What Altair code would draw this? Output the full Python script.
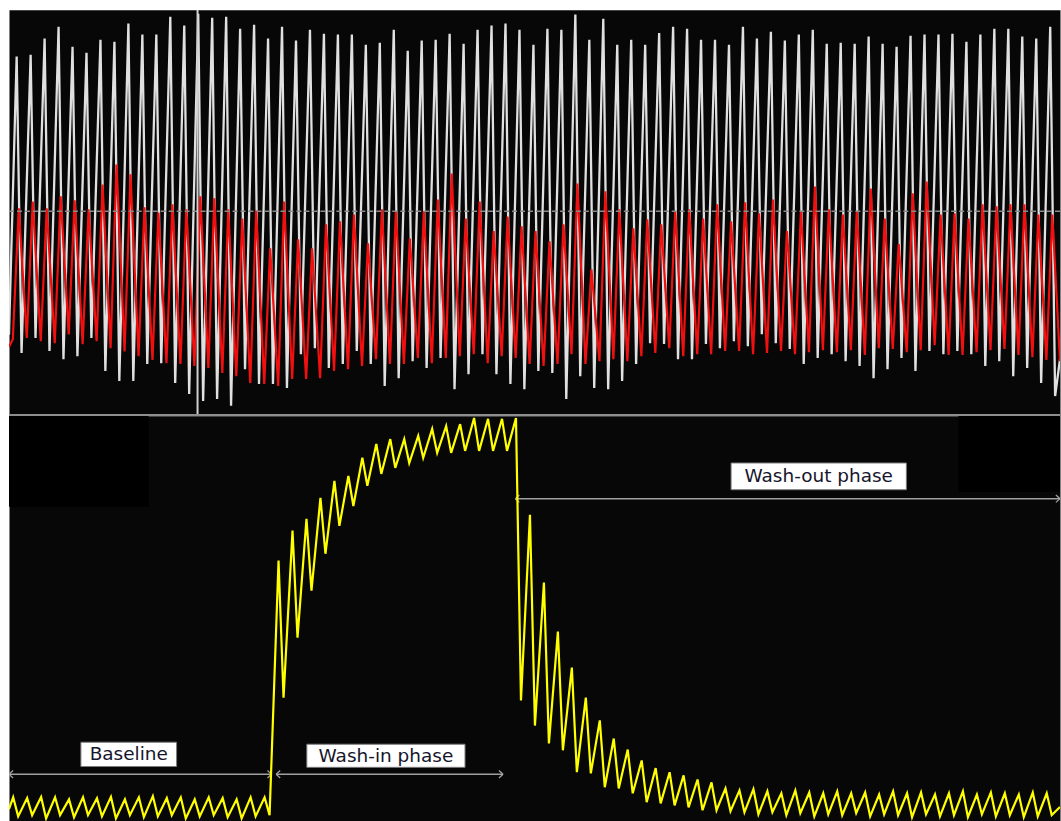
import altair as alt
import pandas as pd

# ---- time base ------------------------------------------------------------
BREATH_S = 4.0      # ventilator cycle length, s
RECORD_S = 301.0    # span of the record on screen, s

# ---- upper panel: two monitoring channels, % of full scale -----------------
# white channel: one maximum and one minimum per breath
white_peak = [
    88.5, 88.9, 92.9, 95.8, 90.9, 89.4, 92.6, 92.1, 96.6, 93.9, 93.9, 98.3, 96.1, 99.0, 98.0, 98.3, 95.3, 96.3, 92.9,
    95.8, 92.4, 95.1, 94.1, 93.9, 93.9, 91.4, 91.9, 95.1, 89.9, 92.4, 92.6, 94.1, 91.6, 95.1, 96.1, 96.6, 95.1, 91.4,
    95.3, 95.1, 98.8, 92.6, 97.8, 91.4, 92.6, 91.4, 94.3, 95.8, 95.3, 92.6, 92.6, 91.4, 95.8, 92.9, 94.6, 92.4, 93.9,
    95.1, 91.6, 91.9, 91.6, 93.4, 91.6, 90.9, 93.6, 93.9, 93.9, 94.1, 92.1, 93.9, 95.3, 95.3, 93.4, 92.9, 95.8,
]
white_trough = [
    15.5, 19.2, 16.0, 14.0, 14.7, 19.2, 11.1, 8.6, 8.6, 12.8, 13.0, 8.1, 5.4, 3.7, 4.2, 2.5, 11.5, 7.9, 7.9,
    6.9, 15.2, 16.7, 11.8, 12.8, 16.0, 12.8, 7.4, 9.3, 13.5, 11.8, 14.3, 6.6, 10.3, 15.2, 10.3, 7.9, 6.6, 11.1,
    10.6, 4.2, 9.8, 6.9, 6.6, 8.6, 12.8, 17.9, 17.7, 14.0, 14.0, 17.7, 16.7, 18.4, 17.2, 20.1, 17.9, 16.5, 12.8,
    14.3, 15.2, 13.5, 12.3, 9.3, 11.5, 14.3, 11.1, 16.0, 15.2, 16.0, 15.2, 12.3, 13.5, 9.8, 11.8, 8.1, 4.9,
]
WHITE_START, WHITE_END = 20.0, 14.0
WHITE_PEAK_AT, WHITE_TROUGH_AT = 2.2, 3.6   # phase inside each breath, s

# red channel
red_trough = [
    18.9, 19.2, 18.4, 17.9, 20.1, 17.7, 18.4, 16.7, 15.9, 14.7, 13.8, 13.0, 12.8, 12.3, 11.8, 10.6, 9.8, 8.1, 7.9,
    7.4, 9.1, 9.1, 9.3, 11.1, 11.5, 12.3, 14.0, 12.8, 12.8, 14.3, 13.0, 14.3, 14.7, 15.2, 13.0, 14.7, 14.3, 12.8,
    12.3, 12.8, 15.2, 12.8, 13.5, 14.0, 13.5, 14.7, 15.5, 16.7, 14.7, 15.2, 15.2, 16.0, 16.0, 15.2, 15.5, 16.0, 15.2,
    15.7, 16.2, 15.7, 16.2, 15.0, 16.7, 16.5, 15.7, 16.2, 17.4, 15.0, 15.0, 15.7, 16.2, 16.5, 15.0, 14.5, 13.8,
]
red_peak = [
    51.1, 52.8, 51.1, 54.1, 53.1, 50.9, 57.0, 61.9, 59.5, 51.4, 50.1, 52.1, 50.9, 54.1, 53.6, 50.9, 48.6, 50.6, 41.3,
    52.8, 43.5, 41.3, 47.2, 47.9, 49.6, 42.5, 50.9, 50.4, 43.7, 50.4, 53.3, 59.7, 48.6, 52.8, 45.5, 49.1, 46.7, 45.5,
    43.0, 47.2, 57.2, 36.1, 55.3, 50.9, 46.2, 48.4, 47.2, 50.4, 50.9, 48.6, 52.1, 47.9, 52.6, 49.9, 53.3, 45.5, 50.4,
    56.5, 50.9, 49.6, 50.4, 56.0, 48.6, 42.3, 54.8, 57.7, 49.6, 49.9, 48.6, 52.1, 51.6, 52.1, 52.1, 49.6, 49.6,
]
RED_START, RED_END = 17.0, 13.5
RED_TROUGH_AT, RED_PEAK_AT = 1.1, 2.8

REF_LEVEL = 50.4    # dashed reference level
CURSOR_T = 54.0     # time cursor, s

# ---- lower panel: tracer gas concentration, % -----------------------------
gas_peak = (
    [5.9, 5.7, 6.0, 5.9, 5.4, 5.9, 5.7, 6.0, 5.4, 5.9, 6.2, 5.7, 5.9, 5.4, 5.9, 5.7, 5.4, 5.9, 5.9]
    + [64.3, 71.7, 74.6, 79.8, 84.0, 85.2, 89.7, 93.1, 94.3, 94.3, 95.1, 96.8, 97.5, 98.0, 99.5, 99.3, 99.3, 99.5]
    + [75.6, 58.9, 46.8, 37.9, 30.5, 24.9, 20.4, 17.7, 15.0, 13.1, 12.1, 11.3, 10.3, 9.6]
    + [8.1, 7.6, 7.9, 7.4, 6.9, 7.6, 7.1, 6.9, 7.4, 6.9, 7.1, 6.6, 7.4, 6.9, 7.1, 6.6, 6.9, 7.4, 6.6, 7.1, 6.9, 6.6, 7.1, 6.9]
)
gas_trough = (
    [1.2, 1.5, 0.7, 1.5, 1.0, 1.5, 1.2, 0.7, 1.5, 1.0, 1.2, 1.5, 0.7, 1.2, 1.5, 1.0, 0.7, 1.2, 1.5]
    + [30.5, 45.3, 56.9, 66.0, 72.9, 77.8, 82.8, 85.7, 87.2, 88.4, 89.7, 90.9, 90.9, 91.4, 91.4, 91.4, 91.4, 29.8]
    + [23.6, 19.2, 17.5, 12.1, 11.8, 8.4, 8.1, 6.9, 4.7, 4.4, 3.9, 3.4, 2.7, 2.7]
    + [2.5, 2.2, 1.7, 2.2, 1.5, 2.0, 1.2, 1.7, 1.5, 2.0, 1.2, 1.7, 1.5, 1.0, 1.7, 1.2, 1.5, 1.0, 1.7, 1.2, 1.5, 1.0, 1.2, 1.5]
)
GAS_START, GAS_END = 3.0, 3.5
GAS_PEAK_AT, GAS_TROUGH_AT = 1.2, 2.63

# phase annotations: label, arrow start/end (s), arrow level (%), label box
phase_label = ["Baseline", "Wash-in phase", "Wash-out phase"]
phase_from = [0.0, 76.5, 145.0]
phase_to = [75.2, 141.5, 301.0]
phase_level = [11.6, 11.6, 79.6]
box_t0 = [20.6, 85.3, 206.8]
box_t1 = [48.0, 130.6, 257.0]
box_v0 = [13.5, 13.3, 81.8]
box_v1 = [19.5, 19.0, 88.4]

# unused screen areas of the monitor (darker patches)
patch_t0 = [0.0, 271.9]
patch_t1 = [40.0, RECORD_S]
patch_v0 = [77.6, 81.3]
patch_v1 = [100.0, 100.0]

PANEL_W = 1053


def breath_series(events, start, end):
    """Turn per-breath extremes into a time series."""
    rows = [(0.0, start)]
    for k in range(len(events[0][1])):
        for phase, values in events:
            rows.append((k * BREATH_S + phase, values[k]))
    rows.append((RECORD_S, end))
    return pd.DataFrame(rows, columns=["t", "v"])


white_df = breath_series([(WHITE_PEAK_AT, white_peak), (WHITE_TROUGH_AT, white_trough)], WHITE_START, WHITE_END)
red_df = breath_series([(RED_TROUGH_AT, red_trough), (RED_PEAK_AT, red_peak)], RED_START, RED_END)
gas_df = breath_series([(GAS_PEAK_AT, gas_peak), (GAS_TROUGH_AT, gas_trough)], GAS_START, GAS_END)

x_scale = alt.Scale(domain=[0, RECORD_S], nice=False, zero=False)
y_scale = alt.Scale(domain=[0, 100], nice=False, zero=False)
X = alt.X("t:Q", scale=x_scale, axis=None)
Y = alt.Y("v:Q", scale=y_scale, axis=None)

# ---- upper panel ------------------------------------------------------------
white = alt.Chart(white_df).mark_line(color="#e0e0e0", strokeWidth=2.3, clip=True).encode(x=X, y=Y)
red = alt.Chart(red_df).mark_line(color="#f01010", strokeWidth=2.2, clip=True).encode(x=X, y=Y)
ref = alt.Chart(pd.DataFrame({"v": [REF_LEVEL]})).mark_rule(
    color="#8a8a8a", strokeWidth=1.5, strokeDash=[5, 3], clip=True
).encode(y=Y)
cursor = alt.Chart(pd.DataFrame({"t": [CURSOR_T]})).mark_rule(
    color="#d0d0d0", strokeWidth=2, clip=True
).encode(x=X)
# panel divider along the floor of the upper panel (half of the stroke is clipped)
divider = alt.Chart(pd.DataFrame({"v": [0.0]})).mark_rule(
    color="#8e8e8e", strokeWidth=4, clip=True
).encode(y=Y)

upper = alt.layer(white, red, ref, cursor, divider).properties(width=PANEL_W, height=407)

# ---- lower panel ------------------------------------------------------------
patches = alt.Chart(
    pd.DataFrame({"t0": patch_t0, "t1": patch_t1, "v0": patch_v0, "v1": patch_v1})
).mark_rect(color="#000000", clip=True).encode(
    x=alt.X("t0:Q", scale=x_scale, axis=None), x2="t1:Q",
    y=alt.Y("v0:Q", scale=y_scale, axis=None), y2="v1:Q",
)

phases = pd.DataFrame({
    "label": phase_label, "t0": phase_from, "t1": phase_to, "v": phase_level,
    "bt0": box_t0, "bt1": box_t1, "bv0": box_v0, "bv1": box_v1,
})
phases["tc"] = (phases["bt0"] + phases["bt1"]) / 2
phases["vc"] = (phases["bv0"] + phases["bv1"]) / 2

arrows = alt.Chart(phases).mark_rule(color="#a0a0a0", strokeWidth=1.5, clip=True).encode(
    x=alt.X("t0:Q", scale=x_scale, axis=None), x2="t1:Q", y=Y
)
head_left = alt.Chart(phases).mark_point(
    shape="M 0 0 L 1.1 -1 M 0 0 L 1.1 1", filled=False, size=56, color="#a0a0a0",
    strokeWidth=1.3, opacity=1, clip=True,
).encode(x=alt.X("t0:Q", scale=x_scale, axis=None), y=Y)
head_right = alt.Chart(phases).mark_point(
    shape="M 0 0 L -1.1 -1 M 0 0 L -1.1 1", filled=False, size=56, color="#a0a0a0",
    strokeWidth=1.3, opacity=1, clip=True,
).encode(x=alt.X("t1:Q", scale=x_scale, axis=None), y=Y)

gas = alt.Chart(gas_df).mark_line(color="#ffff00", strokeWidth=2.2, clip=True).encode(x=X, y=Y)

boxes = alt.Chart(phases).mark_rect(fill="#ffffff", stroke="#7a7a7a", strokeWidth=1).encode(
    x=alt.X("bt0:Q", scale=x_scale, axis=None), x2="bt1:Q",
    y=alt.Y("bv0:Q", scale=y_scale, axis=None), y2="bv1:Q",
)
labels = alt.Chart(phases).mark_text(
    font="DejaVu Sans", fontSize=18.5, color="#16162c", align="center", baseline="middle"
).encode(
    x=alt.X("tc:Q", scale=x_scale, axis=None),
    y=alt.Y("vc:Q", scale=y_scale, axis=None),
    text="label:N",
)

lower = alt.layer(patches, arrows, head_left, head_right, gas, boxes, labels).properties(
    width=PANEL_W, height=406
)

chart = (
    alt.vconcat(upper, lower, spacing=0, bounds="flush")
    .properties(
        padding={"left": 8, "top": 8, "right": 0, "bottom": 0},
        background="#ffffff",
    )
    .configure_view(fill="#070707", stroke="transparent")
)

chart.save("out.html", embed_options={"renderer": "svg", "actions": False})
